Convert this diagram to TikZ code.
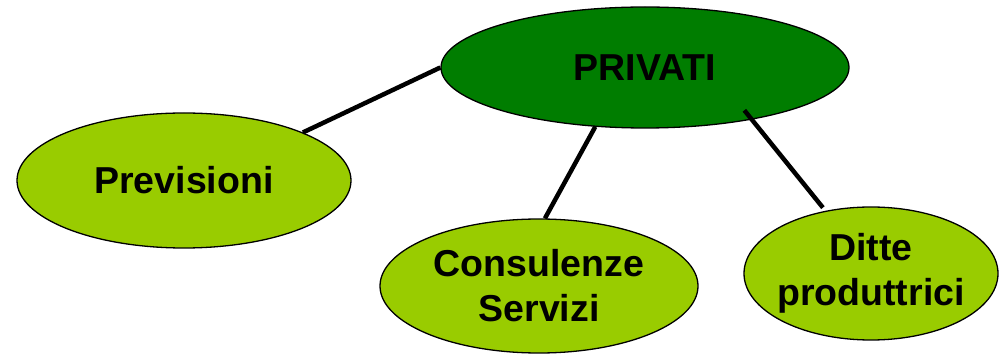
\documentclass[tikz,border=0pt]{standalone}
\usepackage{fontspec}
\setmainfont{Liberation Sans}
\usepackage{tikz}
\tikzset{>=latex}
\usetikzlibrary{shapes.geometric,positioning,calc}
\definecolor{darkgreen}{RGB}{0,125,0}
\definecolor{lightgreen}{RGB}{153,204,0}

\begin{document}
\begin{tikzpicture}[x=1pt, y=-1pt,
    blob/.style={ellipse, draw=black, line width=1.3pt, inner sep=-8pt,
        align=center, font=\fontsize{37.5}{45}\selectfont\bfseries},
    link/.style={black, line width=4.5pt}]
            \useasboundingbox (0,0) rectangle (999,355);

            \node[blob, fill=darkgreen, minimum width=408pt, minimum height=121pt] (privati) at (645,67.5) {PRIVATI};
            \node[blob, fill=lightgreen, minimum width=334pt, minimum height=135pt] (previsioni) at (184,180.5) {Previsioni};
            \node[blob, fill=lightgreen, minimum width=318pt, minimum height=134pt] (consulenze) at (539,286) {Consulenze\\Servizi};
            \node[blob, fill=lightgreen, minimum width=254pt, minimum height=133pt] (ditte) at (871,273.5) {Ditte\\produttrici};

            \draw[link] (privati.180) -- (previsioni.22.6);
            \draw[link] (privati.230.5) -- (consulenze.85);
            \draw[link, shorten <=-12pt, shorten >=4pt] (privati.-26.3) -- (ditte.126.5);
        \end{tikzpicture}
\end{document}
